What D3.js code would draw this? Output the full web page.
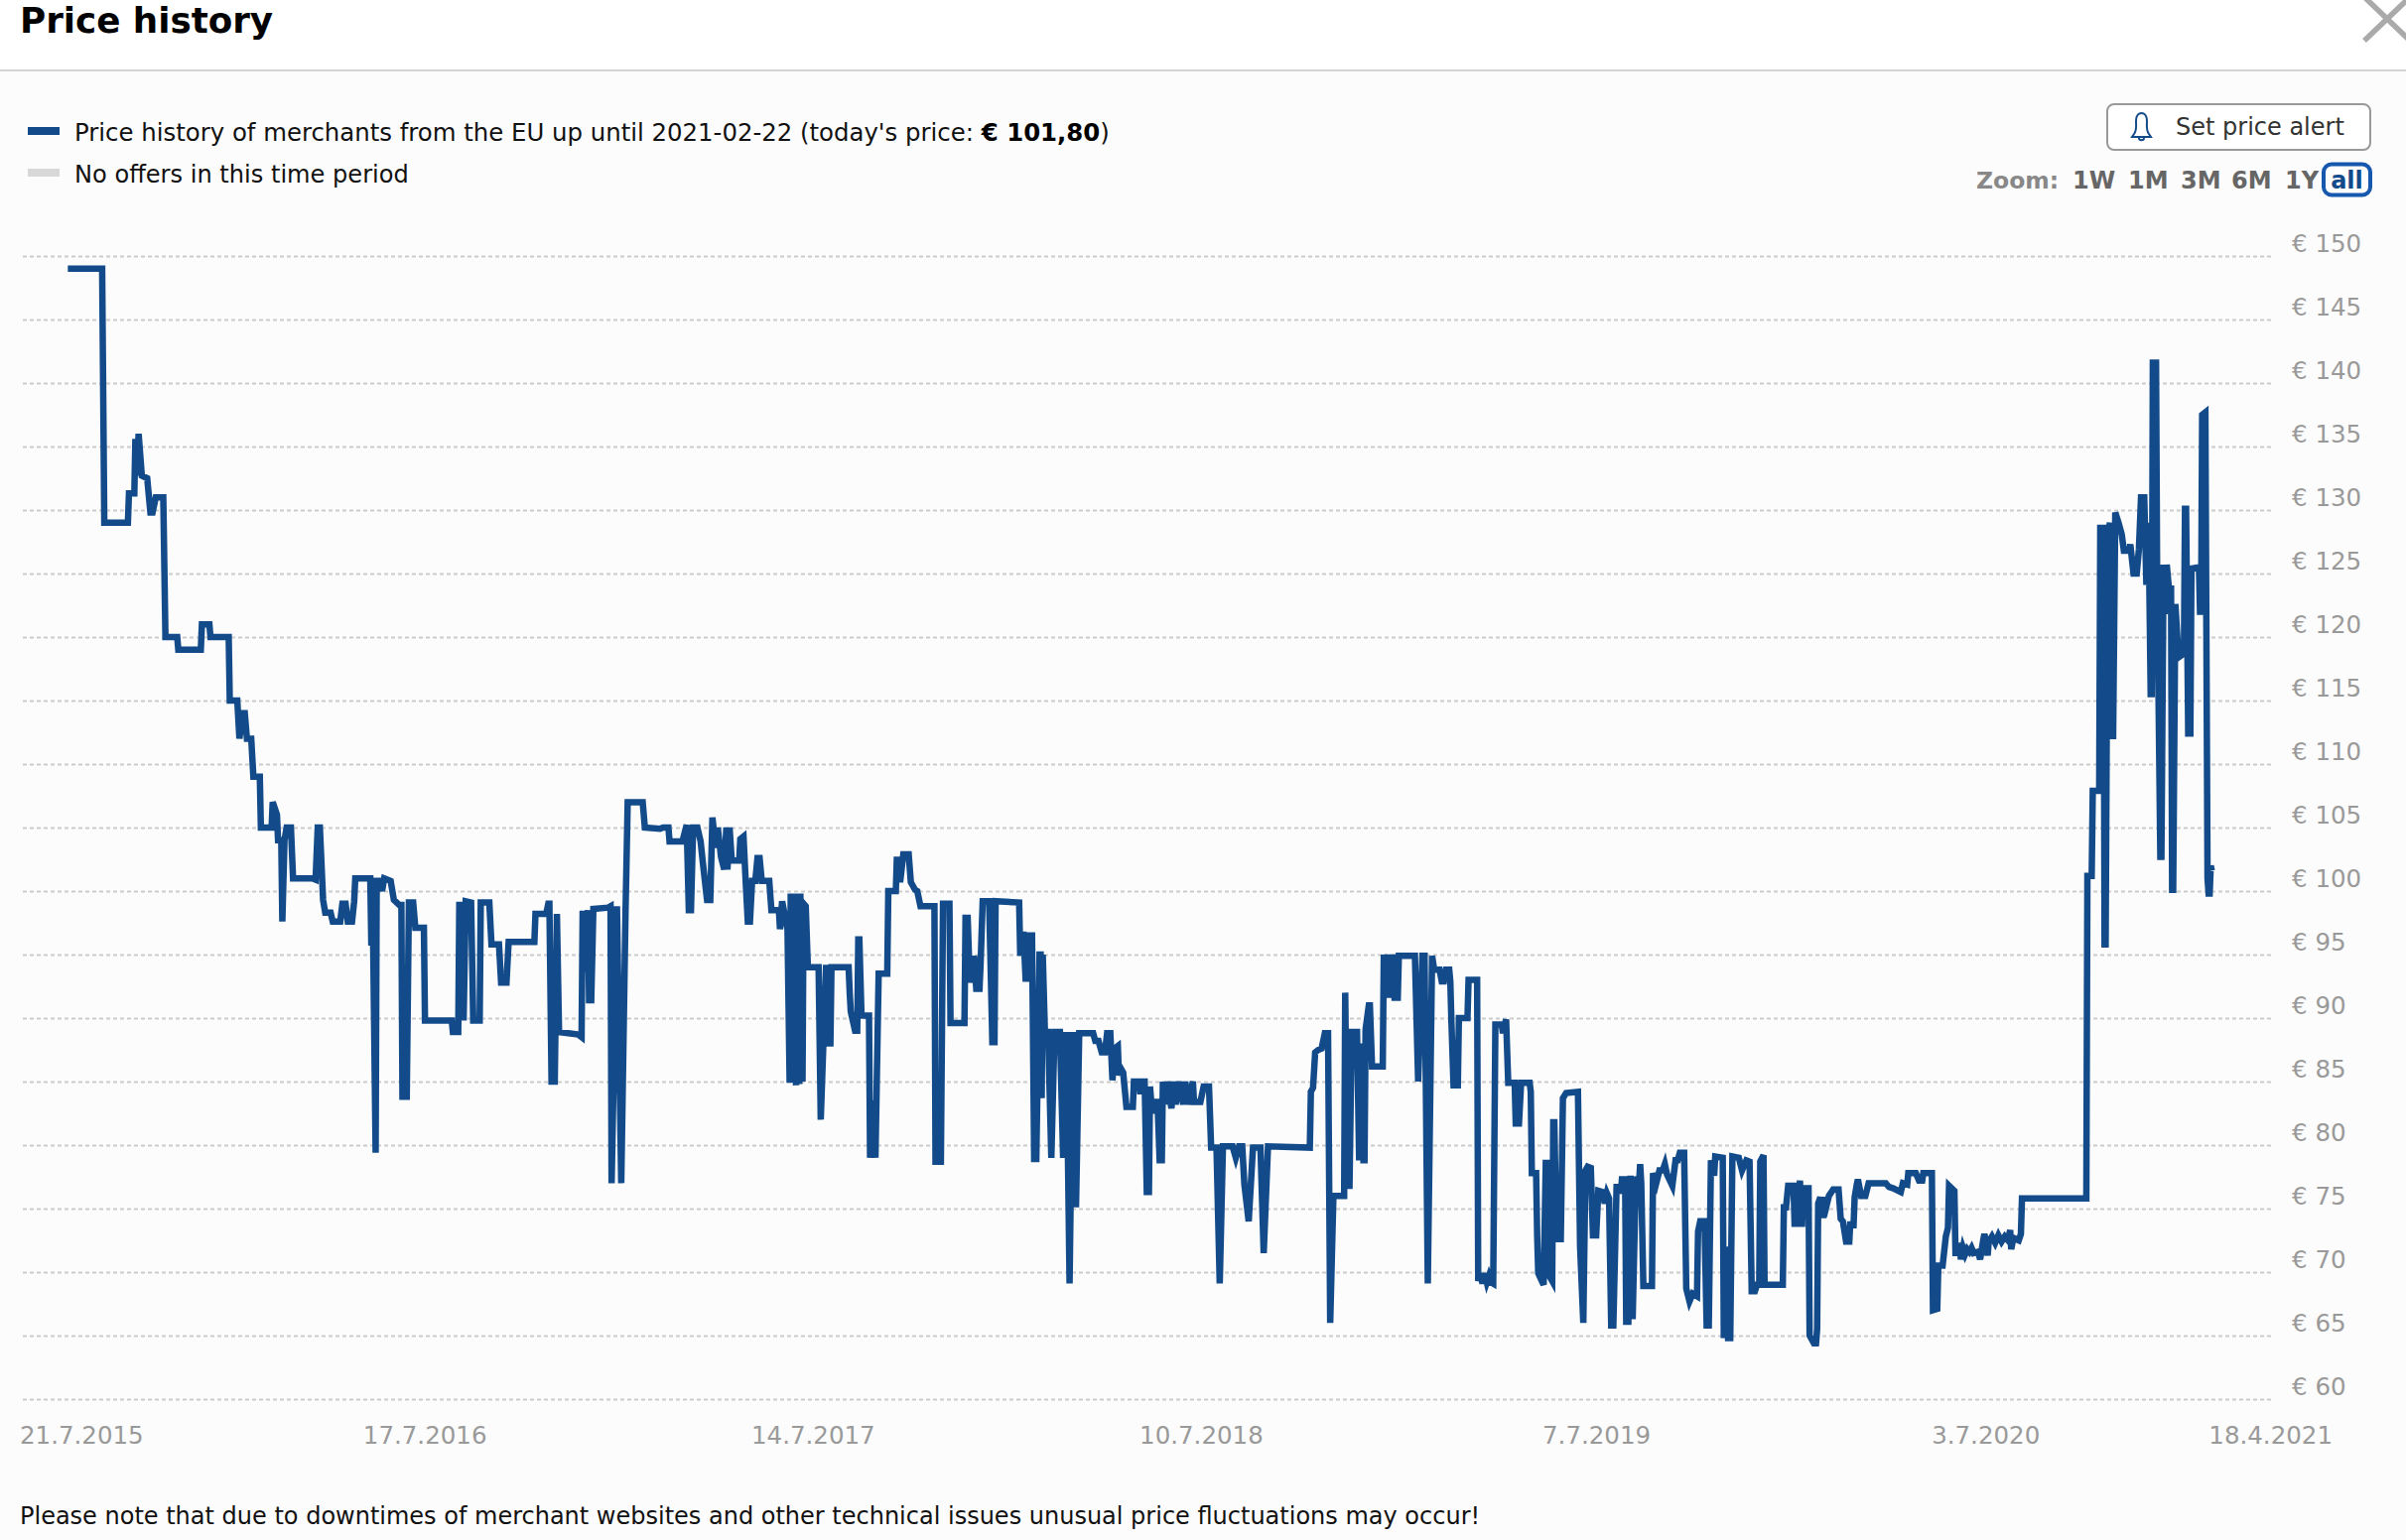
<!DOCTYPE html>
<html>
<head>
<meta charset="utf-8">
<script src="https://cdn.jsdelivr.net/npm/d3@7"></script>
<style>
  html, body { margin: 0; padding: 0; background: #fcfcfc; overflow: hidden; }
  text { font-family: "DejaVu Sans", sans-serif; }
  .grid line { stroke: #ccc; stroke-width: 2; stroke-dasharray: 4 3; }
  .grid text, .dateLabel { fill: #999; font-size: 24.5px; }
  .zoomBtn { fill: #666; font-size: 24px; font-weight: bold; }
</style>
</head>
<body>
<div id="chart"></div>
<script>
// Define SVG area dimensions
var svgWidth = 2424;
var svgHeight = 1552;

var blue = "#134b8a";

// Price history: [days since 21.7.2015, price in euro]
var priceHistory = [
  [29,149],[61,149],[63,129],[85,129],[86,131.3],[91,131.3],[92,135.6],[93,132.7],[95,136],[98,132.7],
  [103,132.5],[106,129.8],[108,129.8],[111,131],[118,131],[120,120],[131,120],[132,119],[153,119],[154,121],
  [161,121],[162,120],[179,120],[180,115],[187,115],[189,112],[192,114],[194,114],[196,112],[200,112],
  [202,109],[208,109],[209,105],[219,105],[220,107],[224,106],[225,104],[228,104],[229,97.6],[231,104],
  [233,105],[237,105],[239,101],[257,101],[260,100.9],[262,105],[264,105],[267,99.3],[269,98.3],[274,98.3],
  [276,97.6],[283,97.6],[285,99],[288,99],[290,97.6],[294,97.6],[296,99.2],[297,101],[311,101],[312,95.7],
  [313,100.8],[316,79.4],[317,100.8],[320,100.8],[322,100],[324,101],[327,100.9],[330,100.8],[333,99.3],[338,98.9],
  [340,98.9],[341,83.8],[345,83.8],[347,99.1],[351,99.1],[353,97.1],[361,97.1],[362,89.8],[387,89.8],[388,88.9],
  [393,88.9],[394,98.9],[397,98.9],[398,89.8],[400,99.2],[405,99.1],[407,89.8],[413,89.8],[414,99.1],[422,99.1],
  [424,95.8],[431,95.8],[433,92.8],[438,92.8],[440,96],[464,96],[465,98.2],[475,98.2],[477,99],[478,99],
  [480,85],[483,85],[485,98.2],[487,88.9],[505,88.7],[508,88.5],[509,98.2],[511,98.2],[512,93.6],[514,98.5],
  [515,91.4],[517,91.4],[519,98.6],[533,98.7],[535,98.8],[536,77],[541,98.8],[545,77],[549,98.4],[551,107],
  [565,107],[567,105],[581,104.9],[584,105],[589,105],[590,103.9],[602,103.9],[606,105.2],[608,98.5],[610,98.5],
  [612,105],[616,105],[619,103.9],[621,102.3],[625,99.3],[628,99.3],[630,105.8],[633,103.4],[635,105],[638,102.7],
  [641,101.7],[643,105],[644,101.7],[646,105],[648,102.4],[655,102.4],[656,104.1],[659,104.3],[661,100.8],[663,97.6],
  [665,97.6],[667,100.8],[670,100.8],[672,102.6],[674,102.6],[676,100.8],[683,100.8],[685,98.5],[692,98.5],[693,97],
  [695,99.2],[700,97],[702,84.9],[703,99.8],[705,84.9],[706,99.8],[708,84.7],[709,99.8],[711,84.8],[712,99.8],
  [714,85],[715,99],[717,98.8],[719,94],[729,94],[731,82],[736,94.2],[737,88],[740,88],[741,94],
  [757,94],[758,92],[759,90.5],[763,89],[765,89],[766,96.2],[767,96.2],[769,90.2],[776,90.2],[777,79],
  [780,83.5],[782,79],[785,93.5],[793,93.5],[794,100],[801,100],[802,102.7],[805,100.7],[808,102.9],[813,102.9],
  [815,100.7],[819,100.1],[821,100],[824,98.8],[834,98.8],[837,98.8],[838,78.7],[843,78.7],[845,99],[851,99],
  [852,89.6],[865,89.6],[866,97.9],[868,97.9],[870,92.8],[874,94.9],[876,92.3],[879,92.3],[880,94.2],[882,99.2],
  [888,99.2],[891,88.1],[893,88.1],[894,99.2],[916,99.1],[917,94.9],[920,96.8],[922,93.1],[924,93.1],[926,96.5],
  [928,96.5],[930,78.9],[932,78.9],[935,95],[936,95],[937,83.7],[938,95],[940,88.9],[943,88.9],[946,79],
  [949,88.9],[954,88.9],[957,79],[960,88.9],[963,69.1],[966,88.9],[969,75.1],[972,88.8],[985,88.8],[987,88.2],
  [990,88.2],[993,87.3],[996,87.3],[998,88.8],[1001,88.8],[1003,85.1],[1005,87.6],[1008,87.8],[1009,85.5],[1011,86],
  [1013,85.7],[1016,83],[1022,83],[1023,85],[1028,85],[1029,84],[1030,85],[1033,85],[1035,76.3],[1037,76.3],
  [1038,84.6],[1040,82.5],[1042,83.4],[1045,83.4],[1047,78.8],[1049,78.8],[1050,85],[1052,83.2],[1054,85],[1058,82.9],
  [1060,85],[1062,83.2],[1065,85],[1069,83.2],[1071,85],[1073,83.2],[1078,85],[1079,83.4],[1085,83.4],[1088,84.6],
  [1093,84.6],[1095,79.8],[1100,79.8],[1103,69.1],[1106,79.9],[1115,79.9],[1118,79],[1121,79.9],[1124,79.9],[1126,76.9],
  [1130,74],[1134,79.8],[1141,79.8],[1144,71.5],[1148,79.9],[1187,79.8],[1188,84.2],[1190,84.5],[1192,87.3],[1195,87.5],
  [1198,87.6],[1201,88.8],[1204,88.8],[1206,66],[1209,76],[1219,76],[1220,92],[1222,76.8],[1224,76.8],[1226,88.9],
  [1231,88.9],[1233,78.8],[1235,88],[1237,78.8],[1238,78.8],[1239,89.1],[1242,91],[1243,91],[1245,86.2],[1255,86.2],
  [1256,95],[1258,91.6],[1260,95],[1261,91.6],[1264,95],[1266,91.6],[1269,91.6],[1270,94.9],[1285,94.9],[1288,85],
  [1292,94.9],[1294,94.9],[1297,69.1],[1301,94.9],[1303,93.8],[1308,93.8],[1310,92.9],[1312,92.9],[1314,93.8],[1317,93.8],
  [1318,92.9],[1319,89.8],[1321,84.7],[1325,84.7],[1326,90],[1334,90],[1335,93],[1343,93],[1344,69.3],[1346,69.9],
  [1348,69.1],[1350,69.9],[1352,69.2],[1354,69.7],[1356,69.2],[1358,69.1],[1360,89.5],[1366,89.5],[1367,88.8],[1370,89.9],
  [1372,84.9],[1378,84.9],[1379,81.7],[1382,81.7],[1384,84.9],[1392,84.9],[1393,84.2],[1394,77.8],[1398,77.8],[1399,72.8],
  [1400,69.9],[1405,69],[1407,78.6],[1409,78.6],[1411,69.6],[1413,69.3],[1414,81.8],[1415,81.8],[1417,72.6],[1421,72.6],
  [1423,83.7],[1426,84.1],[1437,84.2],[1439,72],[1442,66],[1444,78],[1446,78.3],[1449,78.2],[1451,72.9],[1454,72.9],
  [1456,76.4],[1460,76.3],[1462,75.4],[1464,76.2],[1466,75.8],[1468,65.8],[1470,65.8],[1473,76.7],[1475,76.7],[1477,76.2],
  [1478,77.3],[1481,77.3],[1482,66.1],[1484,66.1],[1486,77.6],[1488,66.3],[1491,77.5],[1494,77],[1495,78.5],[1496,77],
  [1498,68.9],[1506,68.9],[1507,77.8],[1510,77],[1513,78],[1516,78],[1518,78.5],[1520,77.7],[1525,76.8],[1528,78.8],
  [1530,78.8],[1532,79.4],[1536,79.4],[1538,68.7],[1541,67.7],[1544,68.3],[1548,68.1],[1549,73.2],[1551,74],[1555,74],
  [1557,65.8],[1559,65.8],[1561,78.8],[1564,77.6],[1565,79.1],[1572,79],[1573,64.8],[1575,72],[1577,64.8],[1579,64.8],
  [1581,79.1],[1587,79],[1590,78],[1594,78.8],[1597,78.7],[1599,68.5],[1602,68.5],[1604,69],[1606,69],[1607,78.7],
  [1610,79.2],[1611,69],[1628,69],[1629,75.1],[1631,75.1],[1633,76.8],[1638,76.8],[1639,73.8],[1641,73.8],[1644,77.2],
  [1645,73.8],[1646,73.8],[1647,76.6],[1652,76.6],[1653,65],[1657,64.4],[1659,64.4],[1660,65.5],[1661,75.4],[1663,75.9],
  [1664,74.5],[1666,74.5],[1667,75.9],[1669,75.3],[1671,76],[1675,76.5],[1680,76.5],[1682,74.2],[1684,74],[1687,72.4],
  [1690,72.4],[1691,74],[1692,73.7],[1694,73.7],[1695,75.9],[1697,76.9],[1698,77.3],[1701,76],[1705,76],[1708,77],
  [1724,77],[1727,76.7],[1731,76.6],[1738,76.3],[1740,77],[1744,76.9],[1745,77.8],[1752,77.8],[1755,77.2],[1758,77.2],
  [1759,77.8],[1767,77.8],[1768,67],[1772,67.1],[1773,70.5],[1777,70.5],[1780,72.8],[1782,73.5],[1783,76.8],[1788,76.4],
  [1789,71.5],[1792,71.5],[1793,72.3],[1794,71],[1796,71.9],[1798,71.4],[1800,71.8],[1802,71.6],[1804,71.9],[1806,71.5],
  [1810,71.6],[1812,71],[1815,72.6],[1816,73],[1819,71.3],[1820,72.4],[1823,72.8],[1826,72.3],[1829,72.9],[1832,72.4],
  [1835,72.8],[1838,72.5],[1840,73.3],[1841,71.8],[1843,72.7],[1848,72.5],[1850,73],[1851,75.8],[1911,75.8],[1912,101.2],
  [1916,101.2],[1917,107.9],[1923,107.9],[1924,128.6],[1927,128.6],[1928,95.8],[1929,95.8],[1931,128],[1933,129],[1934,112.2],
  [1936,112.2],[1938,129.8],[1941,129],[1944,128.1],[1946,126.8],[1951,126.8],[1952,127.3],[1955,125],[1958,125],[1960,126.9],
  [1962,131],[1965,131],[1967,124.1],[1969,129],[1971,115.5],[1972,115.5],[1973,141.6],[1976,141.6],[1977,125],[1980,102.7],
  [1981,102.7],[1983,125.7],[1984,121.8],[1986,125.7],[1988,123.8],[1990,123.8],[1991,100.1],[1992,100.1],[1994,122.6],[1997,118.4],
  [2002,118.7],[2003,130.1],[2004,130.1],[2006,112.4],[2008,112.4],[2009,125.4],[2016,125.5],[2017,122],[2018,122],[2019,137.5],
  [2022,137.7],[2024,101],[2025,99.8],[2026,99.8],[2027,102],[2028,101.6]
];

var startDate = new Date(2015, 6, 21);

// x axis labels: dx nudges the label to where it sits in the picture
var dateLabels = [
  {date: new Date(2015, 6, 21), text: "21.7.2015", anchor: "start", dx: -17},
  {date: new Date(2016, 6, 17), text: "17.7.2016", anchor: "middle", dx: 0},
  {date: new Date(2017, 6, 14), text: "14.7.2017", anchor: "middle", dx: 0},
  {date: new Date(2018, 6, 10), text: "10.7.2018", anchor: "middle", dx: 1},
  {date: new Date(2019, 6, 7), text: "7.7.2019", anchor: "middle", dx: 8},
  {date: new Date(2020, 6, 3), text: "3.7.2020", anchor: "middle", dx: 9},
  {date: new Date(2021, 3, 18), text: "18.4.2021", anchor: "end", dx: 46}
];

var zoomButtons = [
  {text: "1W", x: 2088}, {text: "1M", x: 2144}, {text: "3M", x: 2197},
  {text: "6M", x: 2248}, {text: "1Y", x: 2302}
];

var svg = d3.select("#chart")
  .append("svg")
  .attr("width", svgWidth)
  .attr("height", svgHeight)
  .style("display", "block");

// Page background and header
svg.append("rect").attr("width", svgWidth).attr("height", svgHeight).attr("fill", "#fcfcfc");
svg.append("rect").attr("width", svgWidth).attr("height", 70).attr("fill", "#fff");
svg.append("rect").attr("y", 70).attr("width", svgWidth).attr("height", 2).attr("fill", "#d5d5d5");

svg.append("text")
  .attr("x", 20).attr("y", 33)
  .attr("font-size", 35.7).attr("font-weight", "bold").attr("fill", "#000")
  .text("Price history");

svg.append("path")
  .attr("d", "M2382,-3L2428,41M2382,41L2428,-3")
  .attr("stroke", "#aaa").attr("stroke-width", 5.5).attr("fill", "none");

// Legend
svg.append("rect").attr("x", 28).attr("y", 128).attr("width", 32).attr("height", 8).attr("fill", blue);
svg.append("rect").attr("x", 28).attr("y", 170).attr("width", 32).attr("height", 8).attr("fill", "#d8d8d8");

var legendText = svg.append("text").attr("x", 75).attr("y", 142).attr("font-size", 24.4).attr("fill", "#111");
legendText.append("tspan").text("Price history of merchants from the EU up until 2021-02-22 (today's price: ");
legendText.append("tspan").attr("font-weight", "bold").attr("fill", "#000").text("€ 101,80");
legendText.append("tspan").text(")");

svg.append("text").attr("x", 75).attr("y", 184).attr("font-size", 24.1).attr("fill", "#111")
  .text("No offers in this time period");

// Price alert button
svg.append("rect")
  .attr("x", 2123).attr("y", 105).attr("width", 265).attr("height", 46).attr("rx", 7)
  .attr("fill", "#fff").attr("stroke", "#999").attr("stroke-width", 2);
svg.append("path")
  .attr("transform", "translate(2147,113)")
  .attr("d", "M3,22C6,18 5,14 5,9C5,3 8,1 10.5,1C13,1 16,3 16,9C16,14 15,18 18,22L20,25L1,25ZM8,26C8,29 13,29 13,26")
  .attr("fill", "none").attr("stroke", "#134b8a").attr("stroke-width", 2);
svg.append("text")
  .attr("x", 2192).attr("y", 136)
  .attr("font-size", 24).attr("fill", "#333")
  .text("Set price alert");

// Zoom row
svg.append("text").attr("x", 1991).attr("y", 190)
  .attr("font-size", 23.5).attr("font-weight", "bold").attr("fill", "#888")
  .text("Zoom:");
svg.selectAll(".zoomBtn").data(zoomButtons).enter().append("text")
  .attr("class", "zoomBtn")
  .attr("x", d => d.x).attr("y", 190)
  .text(d => d.text);
svg.append("rect")
  .attr("x", 2341).attr("y", 165.5).attr("width", 47).attr("height", 31).attr("rx", 8)
  .attr("fill", "#fff").attr("stroke", "#1558ae").attr("stroke-width", 4);
svg.append("text").attr("x", 2364.5).attr("y", 190).attr("text-anchor", "middle")
  .attr("font-size", 24).attr("font-weight", "bold").attr("fill", blue)
  .text("all");

// Scales
var xTimeScale = d3.scaleTime()
  .domain([startDate, new Date(2021, 3, 18)])
  .range([37, 2304]);
var yLinearScale = d3.scaleLinear()
  .domain([60, 150])
  .range([1410, 258]);

// y axis with the dotted grid, its labels sit just above each line
var rightAxis = d3.axisRight(yLinearScale)
  .tickValues(d3.range(60, 155, 5))
  .tickSize(-2268)
  .tickFormat(d => "€ " + d);
var yAxisGroup = svg.append("g")
  .attr("class", "grid")
  .attr("transform", "translate(2288,0)")
  .call(rightAxis);
yAxisGroup.select(".domain").remove();
yAxisGroup.selectAll("text")
  .attr("x", 21).attr("dy", -4.5)
  .attr("dominant-baseline", "auto")
  .attr("font-family", null);

// x axis labels
svg.selectAll(".dateLabel").data(dateLabels).enter().append("text")
  .attr("class", "dateLabel")
  .attr("x", d => xTimeScale(d.date) + d.dx)
  .attr("y", 1455)
  .attr("text-anchor", d => d.anchor)
  .text(d => d.text);

// Price line
var priceLine = d3.line()
  .x(d => xTimeScale(d3.timeDay.offset(startDate, d[0])))
  .y(d => yLinearScale(d[1]));
svg.append("path")
  .datum(priceHistory)
  .attr("d", priceLine)
  .attr("fill", "none")
  .attr("stroke", blue)
  .attr("stroke-width", 6.5);

// Footer note
svg.append("text")
  .attr("x", 20).attr("y", 1536)
  .attr("font-size", 24).attr("fill", "#111")
  .text("Please note that due to downtimes of merchant websites and other technical issues unusual price fluctuations may occur!");
</script>
</body>
</html>
